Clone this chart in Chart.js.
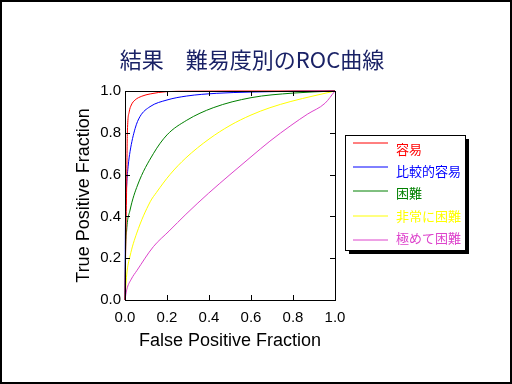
<!DOCTYPE html>
<html lang="ja">
<head>
    <meta charset="UTF-8">
    <title>結果 難易度別のROC曲線</title>
    <script src="https://cdn.jsdelivr.net/npm/chart.js"></script>
    <style>
        body { margin: 0; background: #fff; }
        #wrap { width: 512px; height: 384px; }
    </style>
</head>
<body>
    <div id="wrap"><canvas id="rocChart" width="512" height="384"></canvas></div>

    <script>
        const chartTitle = '結果　難易度別のROC曲線';
        const labels = ['容易', '比較的容易', '困難', '非常に困難', '極めて困難'];
        const colors = ['#ff0000', '#0000ff', '#008000', '#ffff00', '#dd44cc'];
        const tickValues = [0, 0.2, 0.4, 0.6, 0.8, 1.0];

        // (false positive fraction / true positive fraction)
        const easyFpr = [0, 0.004, 0.008, 0.011, 0.02, 0.03, 0.048, 0.08, 0.12, 0.2, 0.3, 0.5, 1];
        const easyTpr = [0, 0.3, 0.55, 0.79, 0.9, 0.933, 0.957, 0.975, 0.986, 0.997, 0.999, 1, 1];

        const fairlyEasyFpr = [0, 0.002, 0.008, 0.015, 0.024, 0.048, 0.071, 0.119, 0.2, 0.294, 0.437, 0.6, 0.8, 1];
        const fairlyEasyTpr = [0, 0.35, 0.55, 0.64, 0.71, 0.82, 0.877, 0.925, 0.957, 0.976, 0.989, 0.995, 0.999, 1];

        const hardFpr = [0, 0.002, 0.008, 0.024, 0.06, 0.135, 0.2, 0.294, 0.42, 0.6, 0.8, 1];
        const hardTpr = [0, 0.2, 0.335, 0.43, 0.55, 0.70, 0.79, 0.86, 0.92, 0.968, 0.99, 1];

        const veryHardFpr = [0, 0.008, 0.024, 0.056, 0.12, 0.15, 0.214, 0.29, 0.4, 0.5, 0.6, 0.69, 0.79, 0.9, 1];
        const veryHardTpr = [0, 0.12, 0.21, 0.32, 0.47, 0.515, 0.6, 0.68, 0.77, 0.835, 0.885, 0.92, 0.95, 0.977, 1];

        const extremeFpr = [0, 0.008, 0.03, 0.056, 0.135, 0.21, 0.29, 0.397, 0.5, 0.6, 0.69, 0.79, 0.87, 0.952, 1];
        const extremeTpr = [0, 0.048, 0.1, 0.14, 0.255, 0.33, 0.41, 0.51, 0.6, 0.685, 0.76, 0.835, 0.89, 0.941, 1];

        const seriesX = [easyFpr, fairlyEasyFpr, hardFpr, veryHardFpr, extremeFpr];
        const seriesY = [easyTpr, fairlyEasyTpr, hardTpr, veryHardTpr, extremeTpr];

        const datasets = labels.map((label, i) => ({
            label: label,
            data: seriesX[i].map((x, j) => ({ x: x, y: seriesY[i][j] })),
            borderColor: colors[i],
            backgroundColor: colors[i],
            borderWidth: 1,
            pointRadius: 0,
            showLine: true,
            cubicInterpolationMode: 'monotone',
            clip: 2
        }));

        // white page, outer frame, title
        const backdrop = {
            id: 'backdrop',
            beforeDraw(chart) {
                const ctx = chart.ctx;
                ctx.save();
                ctx.fillStyle = '#fff';
                ctx.fillRect(0, 0, chart.width, chart.height);
                ctx.strokeStyle = '#000';
                ctx.lineWidth = 2;
                ctx.strokeRect(1, 1, chart.width - 2, chart.height - 2);
                ctx.fillStyle = '#1a2266';
                ctx.font = '22px "Noto Sans CJK JP"';
                ctx.textAlign = 'center';
                ctx.textBaseline = 'middle';
                ctx.fillText(chartTitle, 252, 60);
                ctx.restore();
            }
        };

        // box round the plot with inward ticks, plus the legend box
        const frame = {
            id: 'frame',
            afterDraw(chart) {
                const ctx = chart.ctx;
                const { left, right, top, bottom } = chart.chartArea;
                const xs = chart.scales.x, ys = chart.scales.y;
                ctx.save();
                ctx.strokeStyle = '#000';
                ctx.lineWidth = 1;
                ctx.strokeRect(left + 0.5, top + 0.5, right - left, bottom - top);
                ctx.beginPath();
                tickValues.forEach(v => {
                    const px = Math.round(xs.getPixelForValue(v)) + 0.5;
                    ctx.moveTo(px, bottom); ctx.lineTo(px, bottom - 5);
                    ctx.moveTo(px, top); ctx.lineTo(px, top + 5);
                    const py = Math.round(ys.getPixelForValue(v)) + 0.5;
                    ctx.moveTo(left, py); ctx.lineTo(left + 5, py);
                    ctx.moveTo(right, py); ctx.lineTo(right - 5, py);
                });
                ctx.stroke();

                // legend
                const bx = 345, by = 135, bw = 120, bh = 115;
                ctx.fillStyle = '#000';
                ctx.fillRect(bx + 4, by + 4, bw, bh);
                ctx.fillStyle = '#fff';
                ctx.fillRect(bx, by, bw, bh);
                ctx.strokeRect(bx + 0.5, by + 0.5, bw, bh);
                ctx.font = '13px "Noto Sans CJK JP"';
                ctx.textBaseline = 'middle';
                chart.data.datasets.forEach((ds, i) => {
                    const ly = Math.round(143 + 24.2 * i);
                    ctx.strokeStyle = ds.borderColor;
                    ctx.beginPath();
                    ctx.moveTo(353, ly); ctx.lineTo(388, ly);
                    ctx.stroke();
                    ctx.fillStyle = ds.borderColor;
                    ctx.fillText(ds.label, 396, 149 + 22.2 * i);
                });
                ctx.restore();
            }
        };

        const tickFont = { family: '"Liberation Sans", Arial', size: 15 };
        const titleFont = { family: '"Liberation Sans", Arial', size: 18 };

        new Chart(document.getElementById('rocChart'), {
            type: 'scatter',
            data: { datasets: datasets },
            options: {
                responsive: false,
                animation: false,
                layout: { padding: { left: 65, right: 177, top: 91, bottom: 24 } },
                plugins: {
                    legend: { display: false },
                    tooltip: { enabled: false }
                },
                scales: {
                    x: {
                        type: 'linear',
                        min: 0, max: 1,
                        grid: { display: false, drawTicks: false },
                        border: { display: false },
                        afterFit(scale) { scale.height = 60; },
                        afterBuildTicks(scale) { scale.ticks = tickValues.map(v => ({ value: v })); },
                        ticks: { color: '#000', font: tickFont, padding: 9, callback: v => v.toFixed(1) },
                        title: { display: true, text: 'False Positive Fraction', color: '#000', font: titleFont, padding: { top: 0, bottom: 8 } }
                    },
                    y: {
                        type: 'linear',
                        min: 0, max: 1,
                        grid: { display: false, drawTicks: false },
                        border: { display: false },
                        afterFit(scale) { scale.width = 60; },
                        afterBuildTicks(scale) { scale.ticks = tickValues.map(v => ({ value: v })); },
                        ticks: { color: '#000', font: tickFont, padding: 4, callback: v => v.toFixed(1) },
                        title: { display: true, text: 'True Positive Fraction', color: '#000', font: titleFont, padding: { top: 8, bottom: 0 } }
                    }
                }
            },
            plugins: [backdrop, frame]
        });
    </script>
</body>
</html>
